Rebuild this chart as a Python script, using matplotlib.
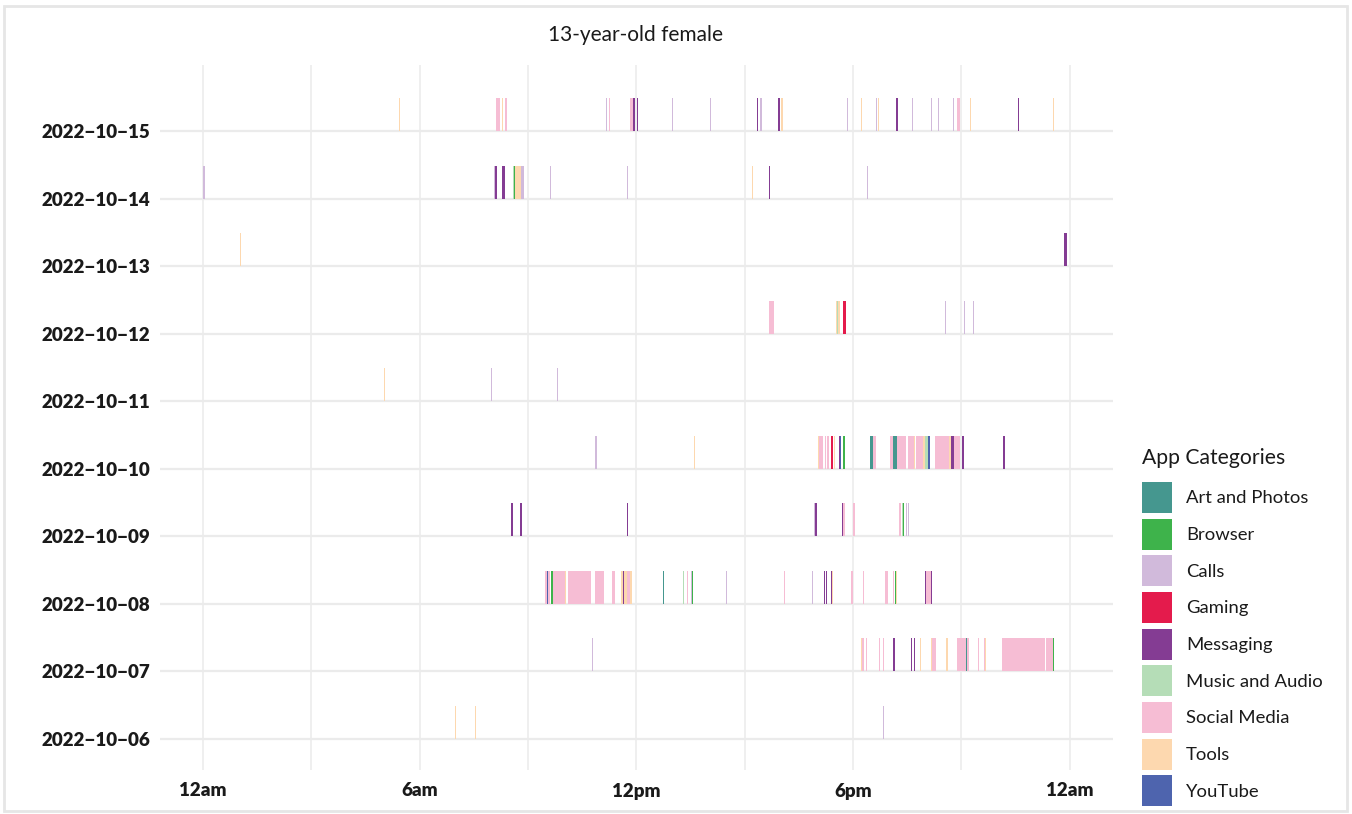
import numpy as np
import pandas as pd
import matplotlib
matplotlib.use("Agg")
import matplotlib.pyplot as plt
from matplotlib.patches import Patch, Rectangle

# %%
# categories and colours
categories = ["Art and Photos", "Browser", "Calls", "Gaming", "Messaging",
              "Music and Audio", "Social Media", "Tools", "YouTube"]
cat_colors = ["#45978F", "#3EB34B", "#D1BADB", "#E41B4C", "#843C93",
              "#B5DDB7", "#F6BDD4", "#FDD8AF", "#4E64AE"]

days = ["2022-10-06", "2022-10-07", "2022-10-08", "2022-10-09", "2022-10-10",
        "2022-10-11", "2022-10-12", "2022-10-13", "2022-10-14", "2022-10-15"]

# sessions per day: (start, minutes, category)
oct06 = [("06:59", 1, "Tools"), ("07:32", 1.5, "Tools"),
         ("15:22", 1, "Calls"), ("18:50", 1, "Calls")]

oct07 = [("10:47", 1.5, "Calls"), ("18:13", 1.5, "Tools"), ("18:15", 3.5, "Social Media"),
         ("18:21", 2, "Social Media"), ("18:44", 1.5, "Social Media"), ("18:50", 1.5, "Social Media"),
         ("19:07", 2.5, "Messaging"), ("19:34", 1.5, "Calls"), ("19:36", 2, "Messaging"),
         ("19:41", 2, "Messaging"), ("19:51", 1.5, "Calls"), ("19:52", 1.5, "Tools"),
         ("20:09", 1.5, "Tools"), ("20:11", 6.5, "Social Media"), ("20:35", 2.5, "Tools"),
         ("20:52", 15, "Social Media"), ("21:07", 2.5, "Art and Photos"), ("21:10", 3, "Social Media"),
         ("21:27", 3, "Social Media"), ("21:37", 3.5, "Social Media"), ("21:40", 1.5, "Tools"),
         ("22:08", 70.5, "Social Media"), ("23:21", 11, "Social Media"), ("23:32", 2, "Browser")]

oct08 = [("02:26", 1, "Calls"), ("09:28", 3, "Social Media"), ("09:31", 3, "YouTube"),
         ("09:34", 3, "Social Media"), ("09:38", 3, "Browser"), ("09:41", 16.5, "Social Media"),
         ("09:57", 1.5, "Browser"), ("09:59", 2.5, "Social Media"), ("10:02", 1, "Tools"),
         ("10:07", 38, "Social Media"), ("10:52", 15, "Social Media"), ("11:20", 5, "Social Media"),
         ("11:35", 3, "Tools"), ("11:38", 1.5, "Messaging"), ("11:40", 5, "Tools"),
         ("11:45", 4, "Social Media"), ("11:50", 3, "Tools"), ("12:45", 1.5, "Art and Photos"),
         ("13:18", 1.5, "Music and Audio"), ("13:25", 1.5, "Social Media"), ("13:31", 1, "Calls"),
         ("13:32", 2, "Browser"), ("14:29", 1.5, "Calls"), ("16:06", 1.5, "Social Media"),
         ("16:52", 1.5, "Calls"), ("17:11", 2, "Messaging"), ("17:15", 1.5, "Messaging"),
         ("17:23", 1.5, "Messaging"), ("17:25", 1.5, "Tools"), ("17:56", 3.5, "Social Media"),
         ("18:16", 1.5, "Social Media"), ("18:54", 3.5, "Social Media"), ("19:07", 1, "Social Media"),
         ("19:09", 3, "Browser"), ("19:12", 1, "Tools"), ("20:00", 1.5, "Messaging"),
         ("20:02", 7.5, "Social Media"), ("20:10", 1.5, "Messaging")]

oct09 = [("08:32", 3.5, "Messaging"), ("08:47", 3.5, "Messaging"), ("11:44", 1.5, "Messaging"),
         ("16:56", 1, "Calls"), ("16:57", 3, "Messaging"), ("17:41", 2, "Messaging"),
         ("17:43", 3.5, "Social Media"), ("18:00", 3.5, "Social Media"), ("19:16", 3.5, "Social Media"),
         ("19:22", 1, "Music and Audio"), ("19:23", 2, "Browser"), ("19:28", 1.5, "Calls"),
         ("19:32", 1.5, "Calls"), ("23:35", 0.8, "Tools")]

oct10 = [("10:52", 3, "Calls"), ("13:36", 1.5, "Tools"), ("17:02", 1.5, "Tools"),
         ("17:03", 7, "Social Media"), ("17:13", 1.5, "Social Media"), ("17:17", 2.5, "Social Media"),
         ("17:24", 3.5, "Gaming"), ("17:29", 1, "Tools"), ("17:31", 1.5, "Calls"),
         ("17:36", 3, "Messaging"), ("17:39", 1.5, "YouTube"), ("17:43", 1.5, "Art and Photos"),
         ("17:44", 2, "Browser"), ("18:29", 4.5, "Art and Photos"), ("18:34", 5, "Social Media"),
         ("19:01", 5.5, "Social Media"), ("19:07", 6.5, "Art and Photos"), ("19:13", 15.5, "Social Media"),
         ("19:31", 11.5, "Social Media"), ("19:42", 1, "Tools"), ("19:44", 11.5, "Social Media"),
         ("19:56", 3, "Tools"), ("19:59", 5.5, "Music and Audio"), ("20:05", 3, "YouTube"),
         ("20:16", 24.5, "Social Media"), ("20:40", 2.5, "Tools"), ("20:43", 5, "Messaging"),
         ("20:48", 9, "Social Media"), ("21:01", 3.5, "Messaging"), ("22:09", 3.5, "Messaging")]

oct11 = [("05:01", 0.8, "Tools"), ("07:58", 1.5, "Calls"), ("09:49", 1.5, "Calls")]

oct12 = [("15:38", 1.5, "Messaging"), ("15:40", 8, "Social Media"), ("17:31", 2, "Tools"),
         ("17:33", 2, "Music and Audio"), ("17:35", 3, "Tools"), ("17:43", 5, "Gaming"),
         ("20:33", 2, "Calls"), ("21:05", 1.5, "Calls"), ("21:19", 1.5, "Calls")]

oct13 = [("01:02", 0.8, "Tools"), ("15:45", 1, "Calls"), ("23:51", 4.5, "Messaging")]

oct14 = [("00:00", 3, "Calls"), ("08:03", 1, "Gaming"), ("08:04", 1.5, "Calls"),
         ("08:05", 3, "Messaging"), ("08:17", 4, "Messaging"), ("08:35", 1.5, "Music and Audio"),
         ("08:36", 2.5, "Browser"), ("08:39", 9, "Tools"), ("08:48", 6, "Calls"),
         ("09:37", 1.5, "Calls"), ("11:45", 1.5, "Calls"), ("15:12", 1.5, "Tools"),
         ("15:38", 1.5, "Calls"), ("15:40", 2, "Messaging"), ("18:23", 2, "Calls")]

oct15 = [("05:26", 0.8, "Tools"), ("08:07", 6, "Social Media"), ("08:16", 2, "Tools"),
         ("08:21", 4, "Social Media"), ("11:10", 2, "Calls"), ("11:15", 2, "Social Media"),
         ("11:50", 5, "Social Media"), ("11:55", 2, "Messaging"), ("12:01", 2, "Messaging"),
         ("12:59", 2, "Calls"), ("14:03", 1.5, "Calls"), ("15:20", 2, "Messaging"),
         ("15:26", 3, "Calls"), ("15:55", 3, "Messaging"), ("16:01", 2, "Tools"),
         ("17:50", 2, "Calls"), ("18:13", 2, "Tools"), ("18:38", 2, "Calls"),
         ("18:41", 1.5, "Tools"), ("19:12", 3, "Messaging"), ("19:38", 1.5, "Calls"),
         ("20:10", 1.5, "Calls"), ("20:21", 2, "Calls"), ("20:46", 1.5, "Calls"),
         ("20:52", 5, "Social Media"), ("21:14", 1.5, "Tools"), ("22:34", 1.5, "Messaging"),
         ("23:32", 2.5, "Tools")]

x_ticks = [0, 6, 12, 18, 24]
x_labels = ["12am", "6am", "12pm", "6pm", "12am"]

# %%
# long table
rows = []
for d, sess in enumerate([oct06, oct07, oct08, oct09, oct10, oct11, oct12, oct13, oct14, oct15]):
    for start, mins, cat in sess:
        hh, mm = start.split(":")
        rows.append({"day": d, "start": int(hh) + int(mm) / 60, "dur": mins / 60, "cat": cat})
df = pd.DataFrame(rows)
color_map = dict(zip(categories, cat_colors))

# %%
plt.rcParams["font.family"] = ["Lato", "DejaVu Sans"]

fig = plt.figure(figsize=(13.52, 8.14), dpi=100)
ax = fig.add_axes([160 / 1352, 1 - 770 / 814, (1113 - 160) / 1352, (770 - 65) / 814])

for cat in categories:
    sub = df[df["cat"] == cat]
    ax.barh(sub["day"], sub["dur"], left=sub["start"], height=0.49, align="edge",
            color=color_map[cat], linewidth=0)

ax.set_xlim(-1.19, 25.2)
ax.set_ylim(-0.46, 9.98)

ax.set_xticks(x_ticks)
ax.set_xticklabels(x_labels, fontsize=13.5, fontweight="heavy", color="#1a1a1a")
ax.set_xticks([3, 9, 15, 21], minor=True)
ax.set_yticks(range(len(days)))
ax.set_yticklabels([s.replace("-", "\u2212") for s in days], fontsize=13.5,
                   fontweight="heavy", color="#1a1a1a")
ax.tick_params(axis="both", which="both", length=0)
ax.tick_params(axis="x", pad=9)
ax.tick_params(axis="y", pad=7)

ax.grid(True, which="both", axis="x", color="#ebebeb", linewidth=1.1)
ax.grid(True, axis="y", color="#ebebeb", linewidth=1.6)
ax.set_axisbelow(True)
for s in ax.spines.values():
    s.set_visible(False)

fig.text(636 / 1352, 1 - 35 / 814, "13-year-old female", ha="center", va="center",
         fontsize=15, color="#1a1a1a")

# legend
fig.text(1142 / 1352, 1 - 458 / 814, "App Categories", ha="left", va="center",
         fontsize=15.2, color="#1a1a1a")
handles = [Patch(facecolor=c, edgecolor="none", label=l) for l, c in zip(categories, cat_colors)]
leg = fig.legend(handles=handles, loc="upper left", bbox_to_anchor=(1142 / 1352, 1 - 482 / 814),
                 frameon=False, fontsize=13.3,
                 handlelength=1.62, handleheight=2.2, labelspacing=0.31, handletextpad=0.75,
                 borderpad=0, borderaxespad=0)
for t in leg.get_texts():
    t.set_color("#1a1a1a")

fig.add_artist(Rectangle((0.003, 0.004), 0.993, 0.989, transform=fig.transFigure,
                         fill=False, edgecolor="#e6e6e6", linewidth=2))

fig.savefig("out.png", dpi=100)
